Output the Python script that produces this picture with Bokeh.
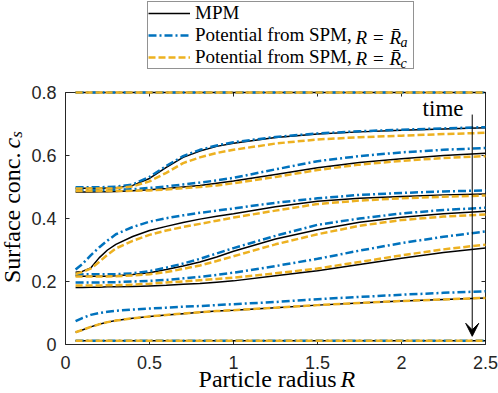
from bokeh.plotting import figure
from bokeh.models import (Range1d, LinearAxis, FixedTicker, Legend, LegendItem,
                          Label, Arrow, VeeHead)
from bokeh.embed import file_html
from bokeh.resources import INLINE
from math import pi

# ---------------- data ----------------
R = [0.06, 0.1, 0.15, 0.2, 0.25, 0.3, 0.4, 0.5, 0.6, 0.7, 0.8, 0.9, 1.0, 1.25, 1.5, 1.75, 2.0, 2.25, 2.5]

# MPM (black solid), one list per time snapshot
mpm_1 = [0.8, 0.8, 0.8, 0.8, 0.8, 0.8, 0.8, 0.8, 0.8, 0.8, 0.8, 0.8, 0.8, 0.8, 0.8, 0.8, 0.8, 0.8, 0.8]
mpm_2 = [0.496, 0.496, 0.496, 0.496, 0.497, 0.498, 0.505, 0.527, 0.562, 0.594, 0.614, 0.629, 0.639, 0.657, 0.668, 0.675, 0.680, 0.684, 0.688]
mpm_3 = [0.484, 0.484, 0.484, 0.485, 0.485, 0.486, 0.488, 0.491, 0.495, 0.500, 0.505, 0.512, 0.519, 0.540, 0.561, 0.578, 0.590, 0.600, 0.607]
mpm_4 = [0.229, 0.232, 0.243, 0.275, 0.300, 0.318, 0.343, 0.362, 0.375, 0.387, 0.398, 0.407, 0.415, 0.437, 0.455, 0.464, 0.470, 0.475, 0.478]
mpm_5 = [0.218, 0.217, 0.217, 0.217, 0.217, 0.218, 0.222, 0.228, 0.238, 0.249, 0.262, 0.278, 0.296, 0.335, 0.364, 0.388, 0.404, 0.415, 0.423]
mpm_6 = [0.181, 0.181, 0.182, 0.182, 0.183, 0.183, 0.184, 0.186, 0.188, 0.191, 0.194, 0.198, 0.202, 0.218, 0.234, 0.254, 0.274, 0.292, 0.306]
mpm_7 = [0.039, 0.046, 0.056, 0.064, 0.071, 0.076, 0.083, 0.089, 0.094, 0.098, 0.102, 0.106, 0.109, 0.117, 0.125, 0.132, 0.138, 0.143, 0.148]
mpm_8 = [0.012, 0.012, 0.012, 0.012, 0.012, 0.012, 0.012, 0.012, 0.012, 0.012, 0.012, 0.012, 0.012, 0.012, 0.012, 0.012, 0.012, 0.012, 0.012]

# Potential from SPM, R = R_a (blue dash-dot)
spa_1 = [0.8, 0.8, 0.8, 0.8, 0.8, 0.8, 0.8, 0.8, 0.8, 0.8, 0.8, 0.8, 0.8, 0.8, 0.8, 0.8, 0.8, 0.8, 0.8]
spa_2 = [0.499, 0.499, 0.499, 0.499, 0.500, 0.501, 0.508, 0.532, 0.567, 0.598, 0.618, 0.632, 0.642, 0.659, 0.670, 0.677, 0.682, 0.686, 0.690]
spa_3 = [0.490, 0.490, 0.490, 0.490, 0.490, 0.491, 0.493, 0.497, 0.502, 0.508, 0.514, 0.521, 0.529, 0.556, 0.582, 0.598, 0.610, 0.618, 0.624]
spa_4 = [0.238, 0.255, 0.283, 0.308, 0.330, 0.350, 0.373, 0.390, 0.401, 0.410, 0.418, 0.425, 0.432, 0.450, 0.464, 0.475, 0.481, 0.486, 0.489]
spa_5 = [0.224, 0.223, 0.223, 0.223, 0.223, 0.223, 0.226, 0.233, 0.244, 0.257, 0.272, 0.289, 0.306, 0.345, 0.380, 0.400, 0.416, 0.427, 0.434]
spa_6 = [0.197, 0.197, 0.197, 0.197, 0.198, 0.198, 0.200, 0.202, 0.205, 0.210, 0.215, 0.221, 0.228, 0.249, 0.272, 0.298, 0.322, 0.342, 0.359]
spa_7 = [0.074, 0.084, 0.094, 0.100, 0.104, 0.107, 0.111, 0.114, 0.117, 0.120, 0.122, 0.125, 0.128, 0.135, 0.144, 0.151, 0.158, 0.164, 0.169]
spa_8 = [0.012, 0.012, 0.012, 0.012, 0.012, 0.012, 0.012, 0.012, 0.012, 0.012, 0.012, 0.012, 0.012, 0.012, 0.012, 0.012, 0.012, 0.012, 0.012]

# Potential from SPM, R = R_c (yellow dashed)
spc_1 = [0.8, 0.8, 0.8, 0.8, 0.8, 0.8, 0.8, 0.8, 0.8, 0.8, 0.8, 0.8, 0.8, 0.8, 0.8, 0.8, 0.8, 0.8, 0.8]
spc_2 = [0.495, 0.495, 0.495, 0.495, 0.495, 0.496, 0.502, 0.518, 0.545, 0.576, 0.594, 0.608, 0.618, 0.638, 0.651, 0.658, 0.663, 0.668, 0.672]
spc_3 = [0.487, 0.487, 0.487, 0.487, 0.487, 0.487, 0.488, 0.489, 0.492, 0.496, 0.500, 0.505, 0.512, 0.532, 0.554, 0.571, 0.583, 0.592, 0.598]
spc_4 = [0.224, 0.230, 0.241, 0.262, 0.285, 0.305, 0.329, 0.348, 0.362, 0.373, 0.383, 0.393, 0.403, 0.425, 0.446, 0.457, 0.464, 0.469, 0.473]
spc_5 = [0.216, 0.216, 0.216, 0.216, 0.216, 0.217, 0.219, 0.223, 0.230, 0.240, 0.251, 0.265, 0.280, 0.318, 0.350, 0.377, 0.395, 0.406, 0.413]
spc_6 = [0.187, 0.187, 0.187, 0.187, 0.188, 0.188, 0.190, 0.193, 0.197, 0.200, 0.204, 0.208, 0.212, 0.226, 0.241, 0.262, 0.283, 0.302, 0.317]
spc_7 = [0.039, 0.046, 0.056, 0.064, 0.071, 0.076, 0.083, 0.089, 0.094, 0.098, 0.102, 0.106, 0.109, 0.117, 0.125, 0.132, 0.138, 0.143, 0.148]
spc_8 = [0.012, 0.012, 0.012, 0.012, 0.012, 0.012, 0.012, 0.012, 0.012, 0.012, 0.012, 0.012, 0.012, 0.012, 0.012, 0.012, 0.012, 0.012, 0.012]

mpm = [mpm_1, mpm_2, mpm_3, mpm_4, mpm_5, mpm_6, mpm_7, mpm_8]
spa = [spa_1, spa_2, spa_3, spa_4, spa_5, spa_6, spa_7, spa_8]
spc = [spc_1, spc_2, spc_3, spc_4, spc_5, spc_6, spc_7, spc_8]

x_ticks = [0, 0.5, 1, 1.5, 2, 2.5]
x_tick_labels = ["0", "0.5", "1", "1.5", "2", "2.5"]
y_ticks = [0, 0.2, 0.4, 0.6, 0.8]
y_tick_labels = ["0", "0.2", "0.4", "0.6", "0.8"]
x_lim = (0, 2.5)
y_lim = (0, 0.8)

legend_labels = ["MPM", "Potential from SPM,", "Potential from SPM,"]
legend_subscripts = ["a", "c"]

# arrow "time"
arrow_x = 2.421
arrow_y0 = 0.730
arrow_y1 = 0.026

# ---------------- styles ----------------
BLUE = "#0072BD"
YELLOW = "#EDB120"
AX = "#262626"
SERIF = "Liberation Serif"
SANS = "Liberation Sans"

W, H = 498, 393
# the frame covers the whole canvas; the axes box is drawn with fixed-location axes
# canvas px -> data:  x = (px - 65) / 168 ,  y = (344 - py) / 315
X0 = (0 - 65) / 168
X1 = (W - 65) / 168
Y1 = (344 - 0) / 315
Y0 = (344 - H) / 315

p = figure(width=W, height=H, output_backend="svg", toolbar_location=None,
           x_range=Range1d(X0, X1), y_range=Range1d(Y0, Y1), min_border=0)
p.xgrid.visible = False
p.ygrid.visible = False
p.outline_line_color = None
p.background_fill_color = "white"
p.border_fill_color = "white"


def style_axis(ax, labels=True):
    ax.level = "underlay"
    ax.axis_line_color = AX
    ax.axis_line_width = 1
    ax.major_tick_line_color = AX
    ax.major_tick_in = 4
    ax.major_tick_out = 0
    ax.minor_tick_line_color = None
    ax.major_label_text_font = SANS
    ax.major_label_text_font_size = "18px"
    if labels:
        ax.major_label_text_color = AX
    else:
        ax.major_label_text_color = None


xb = p.xaxis[0]
yl = p.yaxis[0]
xb.ticker = FixedTicker(ticks=x_ticks)
yl.ticker = FixedTicker(ticks=y_ticks)
xb.major_label_overrides = {t: l for t, l in zip(x_ticks, x_tick_labels)}
yl.major_label_overrides = {t: l for t, l in zip(y_ticks, y_tick_labels)}
xb.fixed_location = y_lim[0]
yl.fixed_location = x_lim[0]
xb.bounds = x_lim
yl.bounds = y_lim
style_axis(xb)
style_axis(yl)
xb.major_label_standoff = 11
yl.major_label_standoff = 9

ax_top = LinearAxis(ticker=FixedTicker(ticks=x_ticks), fixed_location=y_lim[1], bounds=x_lim)
ax_right = LinearAxis(ticker=FixedTicker(ticks=y_ticks), fixed_location=x_lim[1], bounds=y_lim)
style_axis(ax_top, labels=False)
style_axis(ax_right, labels=False)
p.add_layout(ax_top, "above")
p.add_layout(ax_right, "right")

r_black = r_blue = r_yellow = None
for ys in mpm:
    r_black = p.line(R, ys, line_color="black", line_width=1.5)
for ys in spa:
    r_blue = p.line(R, ys, line_color=BLUE, line_width=2.5, line_dash="8 3 2 3")
for ys in spc:
    r_yellow = p.line(R, ys, line_color=YELLOW, line_width=2.5, line_dash="7 3")

legend = Legend(items=[LegendItem(label=legend_labels[0], renderers=[r_black]),
                       LegendItem(label=legend_labels[1], renderers=[r_blue]),
                       LegendItem(label=legend_labels[2], renderers=[r_yellow])],
                location=(147, H - 69))
legend.label_text_font = SERIF
legend.label_text_font_size = "19px"
legend.label_text_color = "black"
legend.glyph_width = 42
legend.glyph_height = 18
legend.label_height = 18
legend.label_standoff = 5
legend.label_width = 218
legend.padding = 0
legend.spacing = 0
legend.margin = 0
legend.border_line_color = AX
legend.border_line_width = 1
legend.background_fill_color = "white"
legend.background_fill_alpha = 0
p.add_layout(legend, "center")


def lab(x, y, text, size, italic=False, **kw):
    p.add_layout(Label(x=x, y=y, text=text, text_font=SERIF, text_font_size=size,
                       text_font_style="italic" if italic else "normal",
                       text_color="black", level="overlay", **kw))


# legend math parts  (italic  R = R-bar, with subscript)
for yy, sub in [(0.975, legend_subscripts[0]), (0.908, legend_subscripts[1])]:
    lab(1.726, yy, "R = R\u0304", "19px", italic=True, text_baseline="middle")
    lab(1.994, yy - 0.016, sub, "14px", italic=True, text_baseline="middle")

# axis labels
lab(1.613, -0.1111, "Particle radius", "24px", text_align="right", text_baseline="alphabetic")
lab(1.637, -0.1111, "R", "24px", italic=True, text_align="left", text_baseline="alphabetic")

lab(-0.3155, 0.6095, "Surface conc.", "24px", angle=pi / 2, text_align="right", text_baseline="alphabetic")
lab(-0.3155, 0.622, "c", "24px", italic=True, angle=pi / 2, text_align="left", text_baseline="alphabetic")
lab(-0.2917, 0.656, "s", "17px", italic=True, angle=pi / 2, text_align="left", text_baseline="alphabetic")

# time arrow
p.add_layout(Arrow(end=VeeHead(size=13, fill_color="black", line_color="black", line_width=1),
                   x_start=arrow_x, y_start=arrow_y0, x_end=arrow_x, y_end=arrow_y1,
                   line_color="black", line_width=1))
lab(2.369, 0.749, "time", "23px", text_align="right", text_baseline="alphabetic")

open("out.html", "w").write(file_html(p, INLINE))
